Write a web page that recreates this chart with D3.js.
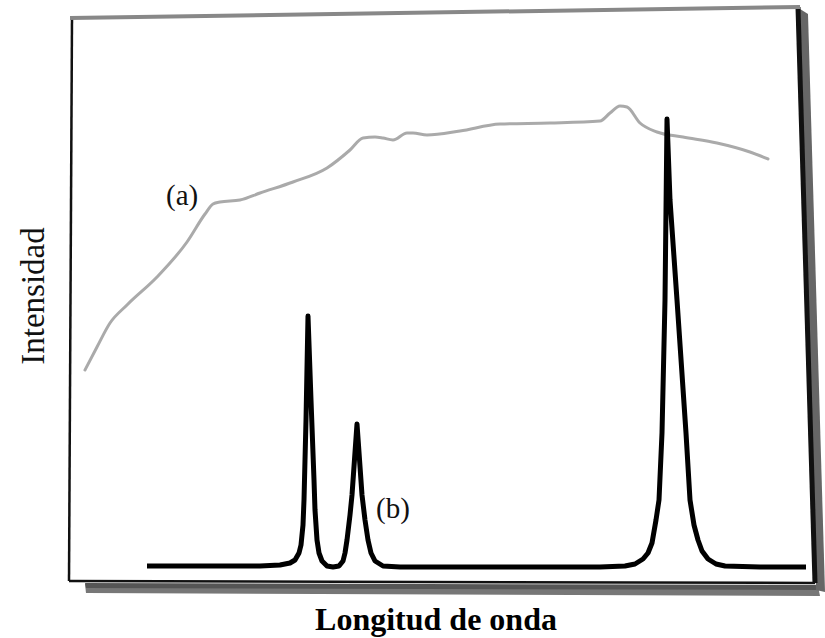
<!DOCTYPE html>
<html><head><meta charset="utf-8">
<script src="https://cdn.jsdelivr.net/npm/d3@7"></script>
<style>html,body{margin:0;padding:0;background:#fff;}svg{display:block;}</style>
</head><body><svg id="c" width="825" height="638"></svg>
<script>
// Wavelength (arbitrary units) and intensity (arbitrary units)
const seriesA_x = [15,27,40,57,87,117,135,143,150,170,190,223,257,280,293,305,313,323,337,343,357,390,430,480,530,540,550,557,570,587,613,647,680,698];
const seriesA_y = [210,233,257,275,303,338,366,376,378,380,387,398,412,430,442,443,442,440,447,447,445,449,456,457,459,467,474,473,457,448,443,437,428,421];

const seriesB_x = [77,130,190,210,220,225,229,231,233,234,236,238,241,244,245,247,249,252,257,263,269,273,275,277,280,282,287,292,295,298,301,305,313,330,380,480,530,555,565,573,578,582,586,589,592,595,597,600,607,616,620,624,628,632,638,646,655,690,736];
const seriesB_y = [14,14,14,15,17,20,27,35,55,80,160,264,180,100,70,40,27,19,14,13,14,19,27,40,65,85,156,85,60,40,27,19,14,13,13,13,13,14,16,21,27,37,60,80,147,280,461,380,280,147,80,55,40,29,21,16,14,13,13];

const labelA = "(a)";
const labelB = "(b)";
const xTitle = "Longitud de onda";
const yTitle = "Intensidad";

const svg = d3.select("#c");
const x = d3.scaleLinear().domain([0, 740]).range([70, 810]);
const y = d3.scaleLinear().domain([0, 565]).range([580, 15]);

// ---- frame (scanned, slightly skewed box with shadow) ----
const TL=[72,18], TR=[798,7], BR=[815,583], BL=[69,581];
// bottom shadow
svg.append("path")
  .attr("d", d3.line()([[85,584],[818,586],[820,596],[86,593]]))
  .attr("fill","#777");
svg.append("path")
  .attr("d", d3.line()([[85,583],[818,585],[819,590],[86,588]]))
  .attr("fill","#555");
// right shadow
svg.append("path")
  .attr("d", d3.line()([[800,9],[808,14],[825,592],[816,590]]))
  .attr("fill","#666");
svg.append("path")
  .attr("d", d3.line()([TR,BR]))
  .attr("stroke","#111").attr("stroke-width",5).attr("fill","none");
svg.append("path")
  .attr("d", d3.line()([BL,BR]))
  .attr("stroke","#111").attr("stroke-width",2.5).attr("fill","none");
svg.append("path")
  .attr("d", d3.line()([TL,BL]))
  .attr("stroke","#111").attr("stroke-width",2.5).attr("fill","none");
svg.append("path")
  .attr("d", d3.line()([[70,18],[800,7]]))
  .attr("stroke","#888").attr("stroke-width",4).attr("fill","none");

// ---- series (a): continuous source, gray ----
const dataA = seriesA_x.map((v,i)=>[v, seriesA_y[i]]);
svg.append("path")
  .datum(dataA)
  .attr("d", d3.line().x(d=>x(d[0])).y(d=>y(d[1])).curve(d3.curveMonotoneX))
  .attr("fill","none").attr("stroke","#aaaaaa").attr("stroke-width",3)
  .attr("stroke-linecap","round").attr("stroke-linejoin","round");

// ---- series (b): line source, black ----
const dataB = seriesB_x.map((v,i)=>[v, seriesB_y[i]]);
svg.append("path")
  .datum(dataB)
  .attr("d", d3.line().x(d=>x(d[0])).y(d=>y(d[1])).curve(d3.curveLinear))
  .attr("fill","none").attr("stroke","#000").attr("stroke-width",5)
  .attr("stroke-linecap","butt").attr("stroke-linejoin","round");

// ---- labels ----
svg.append("text").attr("x",166).attr("y",205)
  .attr("font-family","Liberation Serif, Times New Roman, serif").attr("font-size",29)
  .attr("fill","#111").text(labelA);
svg.append("text").attr("x",376).attr("y",518)
  .attr("font-family","Liberation Serif, Times New Roman, serif").attr("font-size",29)
  .attr("fill","#111").text(labelB);
svg.append("text")
  .attr("transform","translate(44,296) rotate(-90)")
  .attr("text-anchor","middle")
  .attr("font-family","Liberation Serif, Times New Roman, serif").attr("font-size",33)
  .attr("fill","#111").text(yTitle);
svg.append("text").attr("x",436).attr("y",630)
  .attr("text-anchor","middle")
  .attr("font-family","Liberation Serif, Times New Roman, serif").attr("font-size",32)
  .attr("font-weight","bold").attr("fill","#000").text(xTitle);
</script></body></html>
